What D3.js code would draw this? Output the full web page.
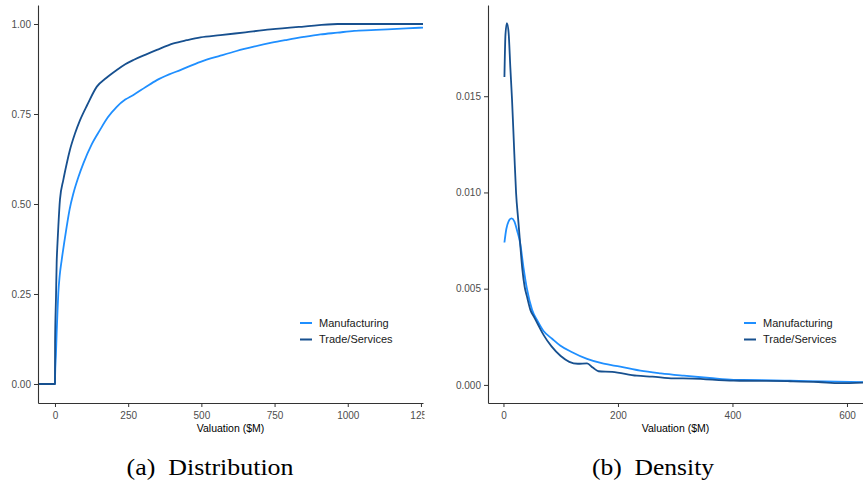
<!DOCTYPE html>
<html>
<head>
<meta charset="utf-8">
<script src="https://cdn.jsdelivr.net/npm/d3@7"></script>
<style>
  body { margin: 0; background: #fff; }
  svg { display: block; font-family: "Liberation Sans", Arial, sans-serif; }
</style>
</head>
<body>
<svg></svg>
<script>
const seriesNames = ['Manufacturing', 'Trade/Services'];
const colors = ['#1f8fff', '#17508f'];

// (a) cumulative distribution, [valuation, share]
const cdfManufacturing = [
  [-58, 0], [0, 0], [0.3, 0.02], [3.4, 0.085], [5.7, 0.141], [8.5, 0.2], [11.4, 0.253], [16, 0.3], [23, 0.345],
  [31, 0.39], [40, 0.437], [50, 0.485], [63, 0.53], [80, 0.575], [97, 0.613], [125, 0.665], [154, 0.706],
  [180, 0.74], [211, 0.77], [240, 0.79], [268, 0.803], [310, 0.825], [348, 0.844], [390, 0.86], [428, 0.872],
  [497, 0.895], [565, 0.912], [620, 0.925], [679, 0.937], [740, 0.948], [793, 0.956], [850, 0.964],
  [907, 0.971], [965, 0.976], [1022, 0.981], [1080, 0.983], [1136, 0.985], [1200, 0.988], [1257, 0.99]
];
const cdfTrade = [
  [-58, 0], [0, 0], [0.3, 0.113], [3.4, 0.239], [5.7, 0.335], [8.5, 0.39], [11.4, 0.437], [17, 0.512],
  [28.5, 0.567], [40, 0.612], [51, 0.65], [68, 0.695], [85.6, 0.733], [110, 0.775], [143, 0.826],
  [175, 0.85], [211, 0.872], [240, 0.888], [268, 0.9], [310, 0.915], [348, 0.928], [405, 0.946],
  [450, 0.955], [497, 0.963], [565, 0.969], [650, 0.977], [736, 0.985], [850, 0.993], [965, 1],
  [1257, 1]
];

// (b) density, [valuation, density]
const densManufacturing = [
  [1.7, 0.0074], [5, 0.0081], [9, 0.0085], [14, 0.00865], [19, 0.0085], [24, 0.0080], [29, 0.0074],
  [35, 0.0061], [41, 0.0050], [50, 0.0039], [60, 0.0033], [70, 0.0028], [85, 0.0024], [99, 0.00205],
  [120, 0.0017], [146, 0.00135], [175, 0.0011], [204, 0.00095], [239, 0.00074], [275, 0.0006],
  [315, 0.00048], [360, 0.00036], [402, 0.00026], [450, 0.00025], [501, 0.00022], [560, 0.00018],
  [628, 0.00014]
];
const densTrade = [
  [1.7, 0.0160], [3.5, 0.0182], [6, 0.0188], [9, 0.0183], [12, 0.0165], [15, 0.0148], [19, 0.0120],
  [22, 0.0100], [26, 0.0085], [29, 0.0074], [33, 0.0060], [37, 0.0051], [41, 0.0046], [47, 0.0039],
  [54, 0.0035], [61, 0.0031], [70, 0.0026], [84, 0.0020], [100, 0.0015], [115, 0.0012], [130, 0.0011],
  [146, 0.00112], [156, 0.0009], [166, 0.00071], [190, 0.00068], [233, 0.00048], [260, 0.00043],
  [297, 0.00034], [330, 0.00033], [402, 0.00022], [460, 0.00021], [501, 0.00019], [550, 0.00015],
  [588, 0.00009], [628, 0.00012]
];

const cdfTicksX = [0, 250, 500, 750, 1000, 1250];
const cdfTicksY = [0, 0.25, 0.5, 0.75, 1];
const densTicksX = [0, 200, 400, 600];
const densTicksY = [0, 0.005, 0.01, 0.015];
const captions = ['(a)\u00a0\u00a0Distribution', '(b)\u00a0\u00a0Density'];

const [width, height] = [863, 484];
const svg = d3.select('svg').attr('width', width).attr('height', height);

function panel(opts) {
  const x = d3.scaleLinear().domain(opts.xDomain).range(opts.xRange);
  const y = d3.scaleLinear().domain(opts.yDomain).range([403, 5]);

  // whole panel (incl. tick labels) is cut at its right edge, like the source image
  svg.append('clipPath').attr('id', opts.id + 'Outer')
    .append('rect')
    .attr('x', opts.xRange[0] - 60).attr('y', 0)
    .attr('width', opts.xRange[1] - opts.xRange[0] + 61.5).attr('height', 440);
  const g = svg.append('g').attr('clip-path', `url(#${opts.id}Outer)`);

  g.append('clipPath').attr('id', opts.id)
    .append('rect')
    .attr('x', opts.xRange[0]).attr('y', 5)
    .attr('width', opts.xRange[1] - opts.xRange[0]).attr('height', 398);

  const line = d3.line().curve(d3.curveMonotoneX).x(d => x(d[0])).y(d => y(d[1]));
  g.append('g').attr('clip-path', `url(#${opts.id})`)
    .selectAll('path')
    .data(opts.series)
    .join('path')
    .attr('d', line)
    .attr('fill', 'none')
    .attr('stroke', (d, i) => colors[i])
    .attr('stroke-width', 1.8)
    .attr('stroke-linejoin', 'round');

  const xAxis = g.append('g')
    .attr('transform', 'translate(0,403)')
    .call(d3.axisBottom(x).tickValues(opts.xTicks).tickSize(4).tickSizeOuter(0).tickFormat(d3.format('d')));
  const yAxis = g.append('g')
    .attr('transform', `translate(${opts.xRange[0]},0)`)
    .call(d3.axisLeft(y).tickValues(opts.yTicks).tickSize(4).tickSizeOuter(0).tickFormat(d3.format(opts.yFormat)));

  for (const a of [xAxis, yAxis]) {
    a.select('.domain').attr('stroke', '#333').attr('stroke-width', 1.1);
    a.selectAll('.tick line').attr('stroke', '#333');
    a.selectAll('.tick text').attr('fill', '#4d4d4d').attr('font-size', 10)
      .attr('font-family', '"Liberation Sans", Arial, sans-serif');
  }
  xAxis.selectAll('.tick text').attr('dy', '0.9em');

  g.append('text')
    .attr('x', (opts.xRange[0] + Math.min(opts.xRange[1], 863)) / 2)
    .attr('y', 432)
    .attr('text-anchor', 'middle')
    .attr('font-size', 10.5)
    .attr('fill', '#000')
    .text('Valuation ($M)');

  const legend = g.append('g')
    .attr('transform', `translate(${opts.legendX},323)`);
  const rows = legend.selectAll('g').data(seriesNames).join('g')
    .attr('transform', (d, i) => `translate(0,${i * 16.5})`);
  rows.append('line')
    .attr('x1', 0).attr('x2', 12)
    .attr('stroke', (d, i) => colors[i])
    .attr('stroke-width', 2);
  rows.append('text')
    .attr('x', 19).attr('dy', '0.35em')
    .attr('font-size', 11)
    .attr('fill', '#1a1a1a')
    .text(d => d);

  svg.append('text')
    .attr('x', opts.captionX).attr('y', 475)
    .attr('text-anchor', 'middle')
    .attr('font-family', '"Liberation Serif", "Times New Roman", serif')
    .attr('font-size', 23)
    .attr('textLength', opts.captionWidth)
    .attr('lengthAdjust', 'spacingAndGlyphs')
    .text(opts.caption);
}

panel({
  id: 'clipA',
  series: [cdfManufacturing, cdfTrade],
  xDomain: [-58, 1257], xRange: [38, 423],
  yDomain: [-0.0528, 1.0528],
  xTicks: cdfTicksX, yTicks: cdfTicksY, yFormat: '.2f',
  legendX: 300,
  captionX: 210, captionWidth: 167,
  caption: captions[0]
});

panel({
  id: 'clipB',
  series: [densManufacturing, densTrade],
  xDomain: [-27, 628], xRange: [488, 863],
  yDomain: [-0.00094, 0.01974],
  xTicks: densTicksX, yTicks: densTicksY, yFormat: '.3f',
  legendX: 744,
  captionX: 653, captionWidth: 122,
  caption: captions[1]
});
</script>
</body>
</html>
